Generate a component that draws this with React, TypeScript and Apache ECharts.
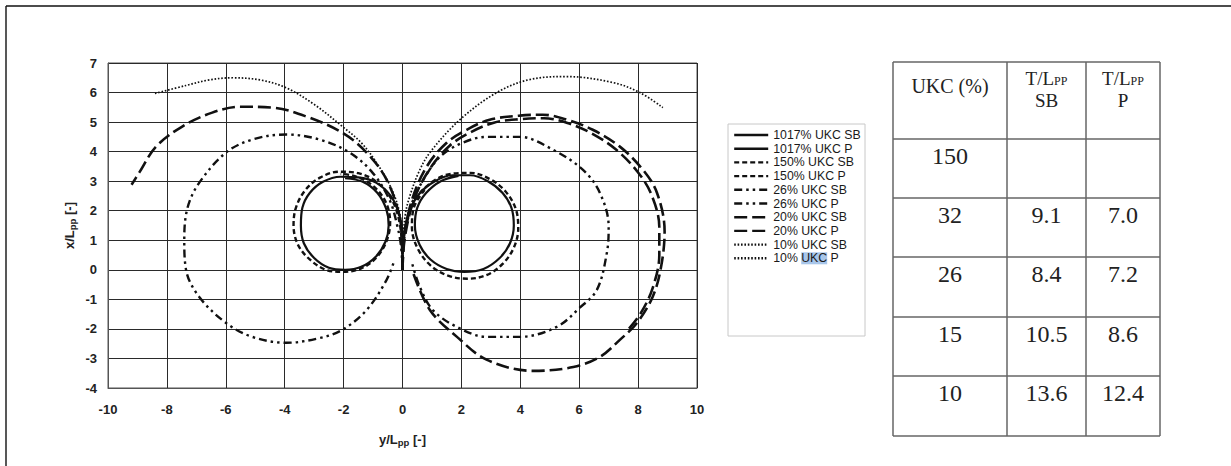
import React, { useEffect, useRef } from "react";
import * as echarts from "echarts";

// ---------- data ----------
const xTicks = { min: -10, max: 10, interval: 2 };
const yTicks = { min: -4, max: 7, interval: 1 };

const legendNames = [
  "1017% UKC SB", "1017% UKC P", "150% UKC SB", "150% UKC P",
  "26% UKC SB", "26% UKC P", "20% UKC SB", "20% UKC P", "10% UKC SB", "10% UKC P",
];

const sb1017 = [[0,0],[0,0.6],[0,1.2],[-0.12,1.9],[-0.4,2.5],[-0.9,2.95],[-1.5,3.13],[-2.1,3.15],[-2.7,2.98],[-3.15,2.6],[-3.4,2.1],[-3.45,1.5],[-3.35,0.9],[-3.0,0.4],[-2.5,0.07],[-1.95,0],[-1.4,0.1],[-0.9,0.45],[-0.58,0.95],[-0.47,1.5],[-0.55,2.05],[-0.85,2.6],[-1.35,2.98],[-1.95,3.1]];
const p1017 = [[0,0],[0,0.6],[0.05,1.2],[0.2,1.9],[0.55,2.55],[1.1,3.0],[1.7,3.2],[2.3,3.2],[2.9,3.0],[3.4,2.6],[3.7,2.1],[3.78,1.5],[3.65,0.9],[3.3,0.4],[2.75,0.03],[2.1,-0.07],[1.5,0.03],[0.95,0.35],[0.58,0.85],[0.42,1.5],[0.5,2.1],[0.8,2.6],[1.3,3.0],[1.9,3.18]];
const sb150 = [[0,0],[-0.02,0.8],[-0.1,1.6],[-0.35,2.35],[-0.85,2.95],[-1.5,3.27],[-2.15,3.32],[-2.8,3.12],[-3.3,2.7],[-3.62,2.1],[-3.7,1.5],[-3.55,0.85],[-3.15,0.35],[-2.6,0.0],[-2.0,-0.07],[-1.4,0.05],[-0.9,0.4],[-0.55,0.95],[-0.42,1.6],[-0.55,2.25],[-0.95,2.8],[-1.55,3.15],[-2.1,3.25]];
const p150 = [[0,0],[0.02,0.8],[0.15,1.6],[0.45,2.4],[1.0,2.97],[1.65,3.25],[2.3,3.28],[2.95,3.08],[3.5,2.65],[3.85,2.05],[3.93,1.4],[3.78,0.75],[3.4,0.2],[2.85,-0.18],[2.2,-0.3],[1.55,-0.2],[0.95,0.15],[0.5,0.75],[0.32,1.45],[0.4,2.15],[0.75,2.7]];
const sb26 = [[0,0],[-0.05,0.8],[-0.17,1.46],[-0.44,2.37],[-1.02,3.29],[-1.8,3.97],[-2.82,4.41],[-3.95,4.58],[-5.1,4.41],[-5.99,3.97],[-6.9,2.95],[-7.3,2.1],[-7.41,1.02],[-7.35,0],[-6.9,-0.92],[-5.99,-1.8],[-5.1,-2.27],[-3.95,-2.47],[-2.82,-2.31],[-2.04,-2.03],[-1.22,-1.36],[-0.54,-0.34],[-0.27,0.34]];
const p26 = [[0,0],[0.05,1.0],[0.3,2.2],[0.8,3.2],[1.3,3.85],[2.04,4.3],[2.86,4.5],[3.98,4.5],[5.1,4.07],[6.12,3.39],[6.7,2.61],[7.0,1.46],[6.94,0.58],[6.6,-0.68],[6.0,-1.3],[5.24,-1.93],[3.98,-2.27],[2.86,-2.27],[1.84,-1.93],[1.03,-1.36],[0.59,-0.58],[0.32,0.24]];
const sb20 = [[0,0],[-0.02,0.9],[-0.1,1.8],[-0.54,3.05],[-1.22,3.97],[-2.04,4.64],[-3.27,5.19],[-4.42,5.49],[-5.54,5.52],[-6.46,5.32],[-7.48,4.85],[-8.37,4.17],[-8.94,3.29],[-9.2,2.88]];
const p20 = [[0,0],[0.05,1.0],[0.3,2.3],[0.82,3.49],[1.5,4.3],[2.18,4.74],[2.96,5.08],[3.98,5.22],[4.76,5.25],[5.58,5.08],[6.46,4.74],[7.38,4.17],[8.16,3.39],[8.64,2.61],[8.9,1.3],[8.78,0.1],[8.5,-0.9],[7.96,-1.8],[7.38,-2.37],[6.7,-2.95],[5.8,-3.29],[4.43,-3.42],[2.87,-3.05],[1.85,-2.27],[0.93,-1.36],[0.36,-0.1]];
const p20b = [[0,0],[0.08,1.1],[0.4,2.4],[0.95,3.45],[1.6,4.2],[2.3,4.65],[3.1,4.98],[4.0,5.1],[4.8,5.13],[5.6,4.97],[6.4,4.63],[7.25,4.07],[7.98,3.32],[8.45,2.55],[8.72,1.45],[8.72,0.5],[8.5,-0.6],[8.1,-1.45],[7.6,-2.1]];
const sb10 = [[0,0],[-0.02,1.0],[-0.1,1.93],[-0.4,2.8],[-0.88,3.62],[-1.4,4.3],[-2.04,4.85],[-3.0,5.6],[-3.95,6.16],[-4.8,6.42],[-5.78,6.5],[-6.6,6.42],[-7.35,6.24],[-8.44,5.96]];
const p10 = [[0,0],[0.02,1.0],[0.1,1.9],[0.25,2.5],[0.55,3.3],[0.93,3.97],[1.95,5.08],[3.2,6.0],[4.32,6.44],[5.58,6.54],[7.14,6.34],[8.06,6.0],[8.84,5.49]];

// table
const tableHeader = ["UKC (%)", "T/L{s|PP}\nSB", "T/L{s|PP}\nP"];
const ukcCol = ["150", "32", "26", "15", "10"];
const sbCol = ["", "9.1", "8.4", "10.5", "13.6"];
const pCol = ["", "7.0", "7.2", "8.6", "12.4"];

// ---------- styles ----------
const solid = { type: "solid" as any, width: 2.2 };
const dashed = { type: [5, 3] as any, width: 2.4 };
const dashDotDot = { type: [8, 4, 2.5, 4, 2.5, 4] as any, width: 2.4 };
const longDash = { type: [13, 5] as any, width: 2.6 };
const dotted = { type: [1.6, 1.8] as any, width: 1.7 };

const seriesDefs: { name: string; data: number[][]; ls: any }[] = [
  { name: legendNames[0], data: sb1017, ls: solid },
  { name: legendNames[1], data: p1017, ls: solid },
  { name: legendNames[2], data: sb150, ls: dashed },
  { name: legendNames[3], data: p150, ls: dashed },
  { name: legendNames[4], data: sb26, ls: dashDotDot },
  { name: legendNames[5], data: p26, ls: dashDotDot },
  { name: legendNames[6], data: sb20, ls: longDash },
  { name: legendNames[7], data: p20, ls: longDash },
  { name: legendNames[7], data: p20b, ls: longDash },
  { name: legendNames[8], data: sb10, ls: dotted },
  { name: legendNames[9], data: p10, ls: dotted },
];

const SANS = "'Liberation Sans', Arial, sans-serif";
const SERIF = "'Liberation Serif', 'Times New Roman', serif";

export default function App() {
  const ref = useRef<HTMLDivElement>(null);
  useEffect(() => {
    if (!ref.current) return;
    const chart = echarts.init(ref.current, null, { renderer: "svg" });

    const cols = [893, 1007, 1086, 1160];
    const rows = [62, 139, 198, 257, 317, 376, 436];
    const tableEls: any[] = [];
    rows.forEach((y) =>
      tableEls.push({ type: "line", shape: { x1: cols[0], y1: y, x2: cols[3], y2: y }, style: { stroke: "#666", lineWidth: 1.5 } })
    );
    cols.forEach((x) =>
      tableEls.push({ type: "line", shape: { x1: x, y1: rows[0], x2: x, y2: rows[6] }, style: { stroke: "#666", lineWidth: 1.5 } })
    );
    const cx = [(cols[0] + cols[1]) / 2, (cols[1] + cols[2]) / 2, (cols[2] + cols[3]) / 2];
    tableEls.push({
      type: "text", x: cx[0], y: 86,
      style: { text: tableHeader[0], font: `20px ${SERIF}`, fill: "#222", align: "center", verticalAlign: "middle" },
    });
    [1, 2].forEach((i) =>
      tableEls.push({
        type: "text", x: cx[i], y: 89,
        style: {
          text: tableHeader[i], fill: "#222", align: "center", verticalAlign: "middle",
          fontFamily: SERIF, fontSize: 19, lineHeight: 22,
          rich: { s: { fontFamily: SERIF, fontSize: 12, lineHeight: 22, padding: [5, 0, 0, 0], fill: "#222" } },
        },
      })
    );
    [ukcCol, sbCol, pCol].forEach((col, ci) =>
      col.forEach((v, ri) => {
        if (!v) return;
        tableEls.push({
          type: "text", x: cx[ci], y: rows[ri + 1] + 17,
          style: { text: v, font: `24px ${SERIF}`, fill: "#222", align: "center", verticalAlign: "middle" },
        });
      })
    );

    const axisNameStyle = {
      fontFamily: SANS, fontWeight: "bold", fontSize: 13, color: "#222",
      rich: { sub: { fontFamily: SANS, fontWeight: "bold", fontSize: 9.5, color: "#222", padding: [5, 0, 0, 0] } },
    };

    const option: any = {
      animation: false,
      backgroundColor: "#fff",
      grid: { left: 108, right: 534, top: 63, bottom: 78, show: true, borderColor: "#555", borderWidth: 1 },
      xAxis: {
        type: "value", min: xTicks.min, max: xTicks.max, interval: xTicks.interval,
        name: "y/L{sub|pp} [-]", nameLocation: "middle", nameGap: 44,
        nameTextStyle: axisNameStyle,
        axisLine: { show: true, onZero: false, lineStyle: { color: "#555" } },
        axisTick: { show: false },
        axisLabel: { margin: 15, fontFamily: SANS, fontWeight: "bold", fontSize: 13, color: "#222" },
        splitLine: { show: true, lineStyle: { color: "#2a2a2a", width: 1 } },
      },
      yAxis: {
        type: "value", min: yTicks.min, max: yTicks.max, interval: yTicks.interval,
        name: "x/L{sub|pp} [-]", nameLocation: "middle", nameGap: 31,
        nameTextStyle: axisNameStyle,
        axisLine: { show: true, onZero: false, lineStyle: { color: "#555" } },
        axisTick: { show: false },
        axisLabel: { margin: 11, fontFamily: SANS, fontWeight: "bold", fontSize: 13, color: "#222" },
        splitLine: { show: true, lineStyle: { color: "#2a2a2a", width: 1 } },
      },
      legend: {
        data: legendNames,
        orient: "vertical",
        left: 733, top: 129,
        padding: 0,
        itemWidth: 34, itemHeight: 10, itemGap: 1.7,
        selectedMode: false,
        itemStyle: { opacity: 0 },
        lineStyle: { width: 2.4 },
        formatter: (n: string) => (n === "10% UKC P" ? "10% {hl|UKC} P" : n),
        textStyle: {
          fontFamily: SANS, fontSize: 12.3, color: "#1a1a1a", lineHeight: 12,
          rich: { hl: { fontFamily: SANS, fontSize: 12.3, color: "#1a1a1a", backgroundColor: "#a8c6ea", lineHeight: 12 } },
        },
      },
      graphic: [
        { type: "line", shape: { x1: 6, y1: 6, x2: 1231, y2: 6 }, style: { stroke: "#111", lineWidth: 1.4 } },
        { type: "line", shape: { x1: 6, y1: 6, x2: 6, y2: 466 }, style: { stroke: "#111", lineWidth: 1.4 } },
        { type: "rect", shape: { x: 728, y: 124, width: 137, height: 212 }, style: { fill: "none", stroke: "#c8c8c8", lineWidth: 1 } },
        ...tableEls,
      ],
      series: seriesDefs.map((s) => ({
        type: "line",
        name: s.name,
        data: s.data,
        smooth: 0.35,
        symbol: "none",
        lineStyle: { color: "#111", ...s.ls },
        itemStyle: { color: "#111" },
      })),
    };
    chart.setOption(option);
    return () => chart.dispose();
  }, []);
  return <div ref={ref} style={{ position: "absolute", left: 0, top: 0, width: 1231, height: 466 }} />;
}
